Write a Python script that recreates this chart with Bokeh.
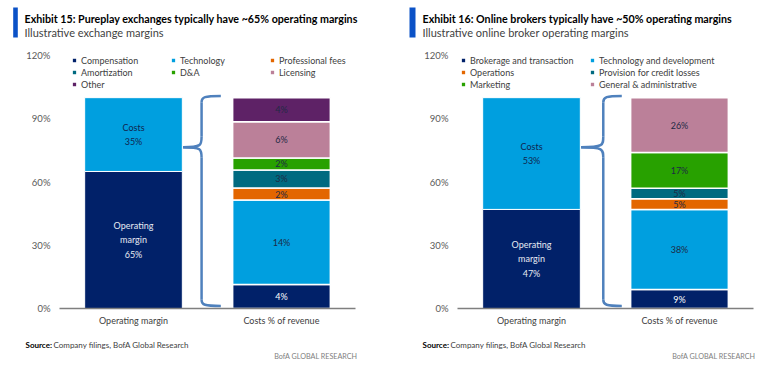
from bokeh.plotting import figure
from bokeh.layouts import row, column
from bokeh.models import (FactorRange, Range1d, FixedTicker, PrintfTickFormatter,
                          Label, Legend, LegendItem)
from bokeh.core.properties import value
from bokeh.embed import file_html
from bokeh.resources import INLINE

FONT = "Lato"

# ---------------- data ----------------
categories = ["Operating margin", "Costs % of revenue"]
y_ticks = [0, 30, 60, 90, 120]

# Exhibit 15
ex_title = "Exhibit 15: Pureplay exchanges typically have ~65% operating margins"
ex_subtitle = "Illustrative exchange margins"
ex_margin = 65
ex_costs = 35
ex_items = ["Compensation", "Technology", "Professional fees", "Amortization",
            "D&A", "Licensing", "Other"]
ex_values = [4, 14, 2, 3, 2, 6, 4]

# Exhibit 16
br_title = "Exhibit 16: Online brokers typically have ~50% operating margins"
br_subtitle = "Illustrative online broker operating margins"
br_margin = 47
br_costs = 53
br_items = ["Brokerage and transaction", "Technology and development", "Operations",
            "Provision for credit losses", "Marketing", "General & administrative"]
br_values = [9, 38, 5, 5, 17, 26]

source_label = "Source:"
source_text = "Company filings, BofA Global Research"
brand_text = "BofA GLOBAL RESEARCH"

# ---------------- styles ----------------
NAVY = "#012169"
BLUE = "#009FDF"
ORANGE = "#E36600"
TEAL = "#006A80"
GREEN = "#28A100"
PINK = "#BB8099"
PURPLE = "#5E2266"
ACCENT = "#0B52C7"
BRACE = "#4F81BD"
ex_colors = [NAVY, BLUE, ORANGE, TEAL, GREEN, PINK, PURPLE]
br_colors = [NAVY, BLUE, ORANGE, TEAL, GREEN, PINK]

PANEL_W = 388
HEAD_H = 44
CHART_TOP = 44
FRAME_TOP = 55
FRAME_BOTTOM = 308
CHART_BOTTOM = 336
TOTAL_H = 369


def blank_fig(x0, y0, y1):
    f = figure(width=PANEL_W, height=y1 - y0, x_range=Range1d(x0, x0 + PANEL_W),
               y_range=Range1d(y1, y0), output_backend="svg", toolbar_location=None,
               x_axis_location=None, y_axis_location=None, frame_align=False,
               min_border=0, min_border_left=0, min_border_right=0,
               min_border_top=0, min_border_bottom=0)
    f.outline_line_color = None
    f.xgrid.grid_line_color = None
    f.ygrid.grid_line_color = None
    return f


def make_panel(title, subtitle, margin, costs, items, values, colors,
               panel_left, frame_left, ncols, col_pitch, legend_x,
               accent_x0, accent_x1, title_x, source_x, brand_x, brace_v, brace_e):
    # ---------- header ----------
    h = blank_fig(panel_left, 0, HEAD_H)
    h.quad(left=[accent_x0], right=[accent_x1], top=[7], bottom=[37],
           fill_color=ACCENT, line_color=None)
    h.add_layout(Label(x=title_x, y=18, text=title, text_font=FONT,
                       text_font_style="bold", text_font_size="10.7px",
                       text_color="#000000", text_baseline="middle"))
    h.add_layout(Label(x=title_x, y=31.5, text=subtitle, text_font=FONT,
                       text_font_size="11px", text_color="#3F3F3F",
                       text_baseline="middle"))

    # ---------- chart ----------
    frame_w = 296
    bl = frame_left - panel_left
    ch = CHART_BOTTOM - CHART_TOP
    p = figure(width=PANEL_W, height=ch, x_range=FactorRange(factors=categories),
               y_range=Range1d(0, 120), output_backend="svg", toolbar_location=None,
               frame_align=False,
               min_border_left=bl, min_border_right=PANEL_W - bl - frame_w,
               min_border_top=FRAME_TOP - CHART_TOP,
               min_border_bottom=CHART_BOTTOM - FRAME_BOTTOM)
    p.outline_line_color = None
    p.xgrid.grid_line_color = None
    p.ygrid.grid_line_color = None

    p.yaxis.ticker = FixedTicker(ticks=y_ticks)
    p.yaxis.formatter = PrintfTickFormatter(format="%d%%")
    p.yaxis.axis_line_color = None
    p.yaxis.major_tick_line_color = None
    p.yaxis.minor_tick_line_color = None
    p.yaxis.major_tick_out = 0
    p.yaxis.major_tick_in = 0
    p.yaxis.major_label_standoff = 9
    p.yaxis.major_label_text_font = FONT
    p.yaxis.major_label_text_font_size = "9.5px"
    p.yaxis.major_label_text_color = "#595959"

    p.xaxis.axis_line_color = "#7F7F7F"
    p.xaxis.axis_line_width = 1.5
    p.xaxis.major_tick_line_color = None
    p.xaxis.minor_tick_line_color = None
    p.xaxis.major_tick_out = 0
    p.xaxis.major_tick_in = 0
    p.xaxis.major_label_standoff = 6
    p.xaxis.major_label_text_font = FONT
    p.xaxis.major_label_text_font_size = "9px"
    p.xaxis.major_label_text_color = "#404040"

    bw = 0.66
    p.vbar(x=[categories[0], categories[0]], bottom=[0, margin], top=[margin, margin + costs],
           width=bw, fill_color=[NAVY, BLUE], line_color="white", line_width=1)
    p.text(x=[categories[0], categories[0]], y=[margin / 2, margin + costs / 2],
           text=["Operating\nmargin\n%d%%" % margin, "Costs\n%d%%" % costs],
           text_align="center", text_baseline="middle", text_font=value(FONT),
           text_font_size="9px", text_line_height=1.3,
           text_color=["#E6EAF2", "#10264F"])

    total = float(sum(values))
    scaled = [v * 100.0 / total for v in values]
    bottom = 0.0
    legend_items = []
    for i, (name, v, c) in enumerate(zip(items, scaled, colors)):
        r = p.vbar(x=[categories[1]], bottom=[bottom], top=[bottom + v], width=bw,
                   fill_color=c, line_color="white", line_width=1.5)
        p.text(x=[categories[1]], y=[bottom + v / 2], text=["%d%%" % values[i]],
               text_align="center", text_baseline="middle", text_font=value(FONT),
               text_font_size="9px",
               text_color="#FFFFFF" if c == NAVY else "#1E2A45")
        legend_items.append(LegendItem(label=name, renderers=[r]))
        bottom += v

    # curly brace (synthetic coords: categories centred at 0.5 / 1.5)
    x_tip = 0.5 + bw / 2 + 0.005
    xv, xe = brace_v, brace_e
    tip_y = 76.5
    top_y, bot_y = 100.8, 1.2
    p.bezier(x0=[x_tip, x_tip], y0=[tip_y, tip_y], x1=[xv, xv], y1=[tip_y + 5, tip_y - 5],
             cx0=[xv, xv], cy0=[tip_y, tip_y], cx1=[xv, xv], cy1=[tip_y + 1, tip_y - 1],
             line_color=BRACE, line_width=2.5)
    p.segment(x0=[xv, xv], y0=[tip_y + 5, tip_y - 5], x1=[xv, xv], y1=[top_y - 3, bot_y + 3],
              line_color=BRACE, line_width=2.5)
    p.bezier(x0=[xv, xv], y0=[top_y - 3, bot_y + 3], x1=[xe, xe], y1=[top_y, bot_y],
             cx0=[xv, xv], cy0=[top_y - 0.5, bot_y + 0.5], cx1=[xv + 0.02, xv + 0.02],
             cy1=[top_y, bot_y], line_color=BRACE, line_width=2.5)

    nrows = -(-len(items) // ncols)
    lh = 12
    leg = Legend(items=legend_items, orientation="horizontal", ncols=ncols,
                 location=(legend_x, 254 - nrows * lh), padding=0, margin=0, spacing=0,
                 glyph_width=6, glyph_height=6, label_standoff=4,
                 label_width=col_pitch - 10, label_height=lh,
                 label_text_font=FONT, label_text_font_size="9px",
                 label_text_color="#404040", label_text_baseline="middle",
                 border_line_color=None, background_fill_alpha=0)
    p.add_layout(leg, "center")

    # ---------- footer ----------
    f = blank_fig(panel_left, CHART_BOTTOM, TOTAL_H)
    f.add_layout(Label(x=source_x, y=344, text=source_label, text_font=FONT,
                       text_font_style="bold", text_font_size="8px",
                       text_color="#000000", text_baseline="middle"))
    f.add_layout(Label(x=source_x + 28, y=344, text=source_text, text_font=FONT,
                       text_font_size="8px", text_color="#404040",
                       text_baseline="middle"))
    f.add_layout(Label(x=brand_x, y=356, text=brand_text, text_align="right",
                       text_font=FONT, text_font_size="7.2px", text_color="#808080",
                       text_baseline="middle"))
    return column(h, p, f, spacing=0)


c1 = make_panel(ex_title, ex_subtitle, ex_margin, ex_costs, ex_items, ex_values, ex_colors,
                panel_left=0, frame_left=59, ncols=3, col_pitch=99, legend_x=12,
                accent_x0=12.7, accent_x1=17.3, title_x=24, source_x=25, brand_x=357,
                brace_v=0.96, brace_e=1.09)
c2 = make_panel(br_title, br_subtitle, br_margin, br_costs, br_items, br_values, br_colors,
                panel_left=388, frame_left=457, ncols=2, col_pitch=129, legend_x=3,
                accent_x0=409, accent_x1=415, title_x=422, source_x=422, brand_x=755,
                brace_v=0.985, brace_e=1.11)

layout = row(c1, c2, spacing=0)
open("out.html", "w").write(file_html(layout, INLINE))
